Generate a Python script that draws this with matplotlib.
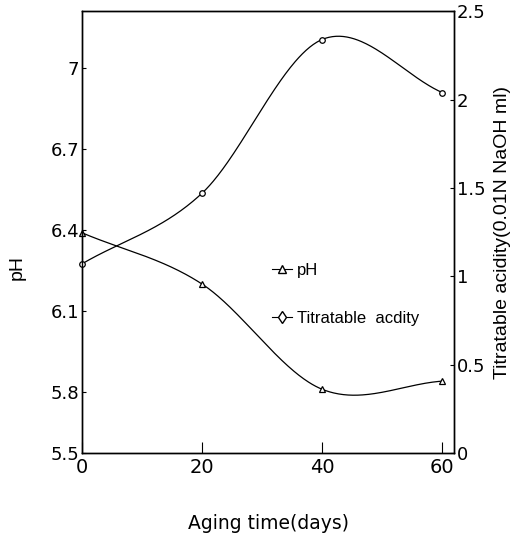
import numpy as np
import matplotlib
matplotlib.use('Agg')
import matplotlib.pyplot as plt
from matplotlib.lines import Line2D

# data
days = [0, 20, 40, 60]
ph = [6.39, 6.20, 5.81, 5.84]
acidity = [1.07, 1.47, 2.34, 2.04]

ph_ticks = [5.8, 6.1, 6.4, 6.7, 7.0]
ph_labels = ['5.8', '6.1', '6.4', '6.7', '7']
ph_bottom_label = '5.5'
acid_ticks = [0, 0.5, 1, 1.5, 2, 2.5]
acid_labels = ['0', '0.5', '1', '1.5', '2', '2.5']
day_ticks = [0, 20, 40, 60]

wide = 'DejaVu Sans'
narrow = ['Liberation Sans Narrow', 'Liberation Sans', 'DejaVu Sans']


def smooth(x, y, xs):
    # cubic hermite curve through the points (catmull-rom style tangents)
    x = np.asarray(x, float)
    y = np.asarray(y, float)
    d = np.gradient(y, x)
    idx = np.clip(np.searchsorted(x, xs) - 1, 0, len(x) - 2)
    h = x[idx + 1] - x[idx]
    t = (xs - x[idx]) / h
    h00 = 2 * t**3 - 3 * t**2 + 1
    h10 = t**3 - 2 * t**2 + t
    h01 = -2 * t**3 + 3 * t**2
    h11 = t**3 - t**2
    return h00 * y[idx] + h10 * h * d[idx] + h01 * y[idx + 1] + h11 * h * d[idx + 1]


fig = plt.figure(figsize=(5.22, 5.36), dpi=100)
ax = fig.add_axes([0.157, 0.155, 0.713, 0.824])
ax2 = ax.twinx()

xs = np.linspace(days[0], days[-1], 300)
ax.plot(xs, smooth(days, ph, xs), color='black', lw=0.9)
ax.plot(days, ph, linestyle='none', marker='^', ms=5, mfc='white', mec='black', mew=0.9, clip_on=False)
ax2.plot(xs, smooth(days, acidity, xs), color='black', lw=0.9)
ax2.plot(days, acidity, linestyle='none', marker='o', ms=4, mfc='white', mec='black', mew=0.9, clip_on=False)

ph_lo, ph_hi = 5.574, 7.211
ax.set_xlim(0, 62)
ax.set_ylim(ph_lo, ph_hi)
ax2.set_ylim(0, 2.5)

ax.set_xticks(day_ticks)
ax.set_xticklabels([str(d) for d in day_ticks], fontsize=14, family=wide)
ax.set_yticks([ph_lo] + ph_ticks)
ax.set_yticklabels([ph_bottom_label] + ph_labels, fontsize=13, family=wide)
ax2.set_yticks(acid_ticks)
ax2.set_yticklabels(acid_labels, fontsize=13, family=wide)

ax.tick_params(axis='x', direction='in', length=8, width=0.8, pad=4)
ax.tick_params(axis='y', direction='in', length=3, width=0.8, pad=2)
ax2.tick_params(axis='y', direction='in', length=3, width=0.8, pad=2)

for a in (ax, ax2):
    for s in a.spines.values():
        s.set_linewidth(1.0)

ax.set_xlabel('Aging time(days)', fontsize=13.5, family=wide, labelpad=26)
ax.set_ylabel('pH', fontsize=14, family=narrow)
ax.yaxis.set_label_coords(-0.15, 0.42)
ax2.set_ylabel('Titratable acidity(0.01N NaOH ml)', fontsize=14, family=narrow, labelpad=6)

handles = [
    Line2D([], [], color='black', lw=0.8, marker='^', ms=6, mfc='white', mec='black'),
    Line2D([], [], color='black', lw=0.8, marker='d', ms=6, mfc='white', mec='black'),
]
leg = ax.legend(handles, ['pH', 'Titratable  acdity'], loc='upper left',
                bbox_to_anchor=(0.47, 0.465), frameon=False, handlelength=1.2,
                handletextpad=0.3, labelspacing=2.0,
                prop={'family': narrow, 'size': 12})

fig.savefig('out.png', dpi=100)
